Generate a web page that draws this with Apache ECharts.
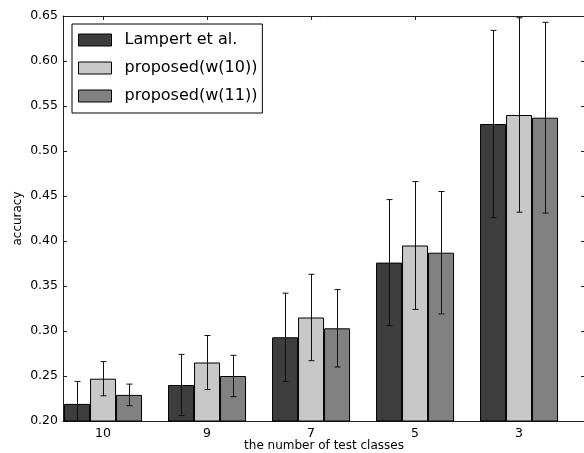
<!DOCTYPE html>
<html>
<head>
<meta charset="utf-8">
<script src="https://cdn.jsdelivr.net/npm/echarts@6/dist/echarts.min.js"></script>
<style>html,body{margin:0;padding:0;background:#fff;}#c{width:584px;height:453px;}</style>
</head>
<body>
<div id="c"></div>
<script>
const categories = ['10', '9', '7', '5', '3'];
const seriesNames = ['Lampert et al.', 'proposed(w(10))', 'proposed(w(11))'];
const lampert = [0.219, 0.240, 0.293, 0.376, 0.530];
const lampertErr = [0.025, 0.034, 0.049, 0.070, 0.104];
const prop10 = [0.247, 0.265, 0.315, 0.395, 0.540];
const prop10Err = [0.019, 0.030, 0.048, 0.071, 0.108];
const prop11 = [0.229, 0.250, 0.303, 0.387, 0.537];
const prop11Err = [0.012, 0.023, 0.043, 0.068, 0.106];
const yTicks = [0.20, 0.25, 0.30, 0.35, 0.40, 0.45, 0.50, 0.55, 0.60, 0.65];

const colors = ['#3d3d3d', '#c8c8c8', '#818181'];
const values = [lampert, prop10, prop11];
const errs = [lampertErr, prop10Err, prop11Err];
const BAR_W = 26;
const font = 'DejaVu Sans';

const series = [];
values.forEach((vals, s) => {
  series.push({
    name: seriesNames[s],
    type: 'bar',
    barWidth: BAR_W,
    barGap: '0%',
    clip: true,
    itemStyle: { color: colors[s], borderColor: '#000', borderWidth: 1 },
    data: vals.map((v, i) => [i, v]),
    z: 2
  });
});
values.forEach((vals, s) => {
  const off = (s - 1) * BAR_W;
  series.push({
    type: 'custom',
    clip: true,
    z: 5,
    silent: true,
    data: vals.map((v, i) => [i, v, errs[s][i]]),
    renderItem: function (params, api) {
      const x = api.value(0), v = api.value(1), e = api.value(2);
      const top = api.coord([x, v + e]);
      const bot = api.coord([x, v - e]);
      const cx = Math.round(top[0] + off) + 0.5;
      const st = { stroke: '#111', lineWidth: 1 };
      return {
        type: 'group',
        children: [
          { type: 'line', shape: { x1: cx, y1: top[1], x2: cx, y2: bot[1] }, style: st },
          { type: 'line', shape: { x1: cx - 3, y1: top[1], x2: cx + 3, y2: top[1] }, style: st },
          { type: 'line', shape: { x1: cx - 3, y1: bot[1], x2: cx + 3, y2: bot[1] }, style: st }
        ]
      };
    }
  });
});

const xMin = -0.385, xMax = 4.634;
const tickVals = categories.map((c, i) => i);
const axisLineStyle = { show: true, onZero: false, lineStyle: { color: '#222', width: 1 } };

const chart = echarts.init(document.getElementById('c'), null, { renderer: 'canvas' });
chart.setOption({
  animation: false,
  backgroundColor: '#fff',
  textStyle: { fontFamily: font },
  grid: { left: 63, top: 16, right: -1, bottom: 32, containLabel: false, outerBoundsMode: 'none' },
  legend: {
    data: seriesNames,
    orient: 'vertical',
    left: 72,
    top: 24,
    padding: [8, 5, 9, 6],
    itemWidth: 33,
    itemHeight: 12,
    itemGap: 12,
    borderColor: '#000',
    borderWidth: 1,
    backgroundColor: '#fff',
    icon: 'rect',
    itemStyle: { borderColor: '#000', borderWidth: 1 },
    textStyle: { fontFamily: font, fontSize: 16, color: '#000', lineHeight: 12, padding: [0, 0, 0, 8] }
  },
  xAxis: [
    {
      type: 'value', min: xMin, max: xMax, position: 'bottom',
      splitLine: { show: false },
      axisLine: axisLineStyle,
      axisTick: { show: true, inside: true, length: 4, customValues: tickVals, lineStyle: { color: '#222' } },
      axisLabel: {
        customValues: tickVals, margin: 6, color: '#000', fontFamily: font, fontSize: 12.5,
        formatter: v => categories[Math.round(v)]
      },
      name: 'the number of test classes', nameLocation: 'middle', nameGap: 19, nameMoveOverlap: false,
      nameTextStyle: { fontFamily: font, fontSize: 12, color: '#000' }
    },
    {
      type: 'value', min: xMin, max: xMax, position: 'top',
      splitLine: { show: false },
      axisLine: axisLineStyle,
      axisTick: { show: true, inside: true, length: 4, customValues: tickVals, lineStyle: { color: '#222' } },
      axisLabel: { show: false }
    }
  ],
  yAxis: [
    {
      type: 'value', min: 0.2, max: 0.65, interval: 0.05, position: 'left',
      splitLine: { show: false },
      axisLine: axisLineStyle,
      axisTick: { show: true, inside: true, length: 4, lineStyle: { color: '#222' } },
      axisLabel: { margin: 5, color: '#000', fontFamily: font, fontSize: 12.5, formatter: v => v.toFixed(2) },
      name: 'accuracy', nameLocation: 'middle', nameGap: 39, nameRotate: 90, nameMoveOverlap: false,
      nameTextStyle: { fontFamily: font, fontSize: 12, color: '#000' }
    },
    {
      type: 'value', min: 0.2, max: 0.65, interval: 0.05, position: 'right',
      splitLine: { show: false },
      axisLine: axisLineStyle,
      axisTick: { show: true, inside: true, length: 4, lineStyle: { color: '#222' } },
      axisLabel: { show: false }
    }
  ],
  series: series
});
</script>
</body>
</html>
